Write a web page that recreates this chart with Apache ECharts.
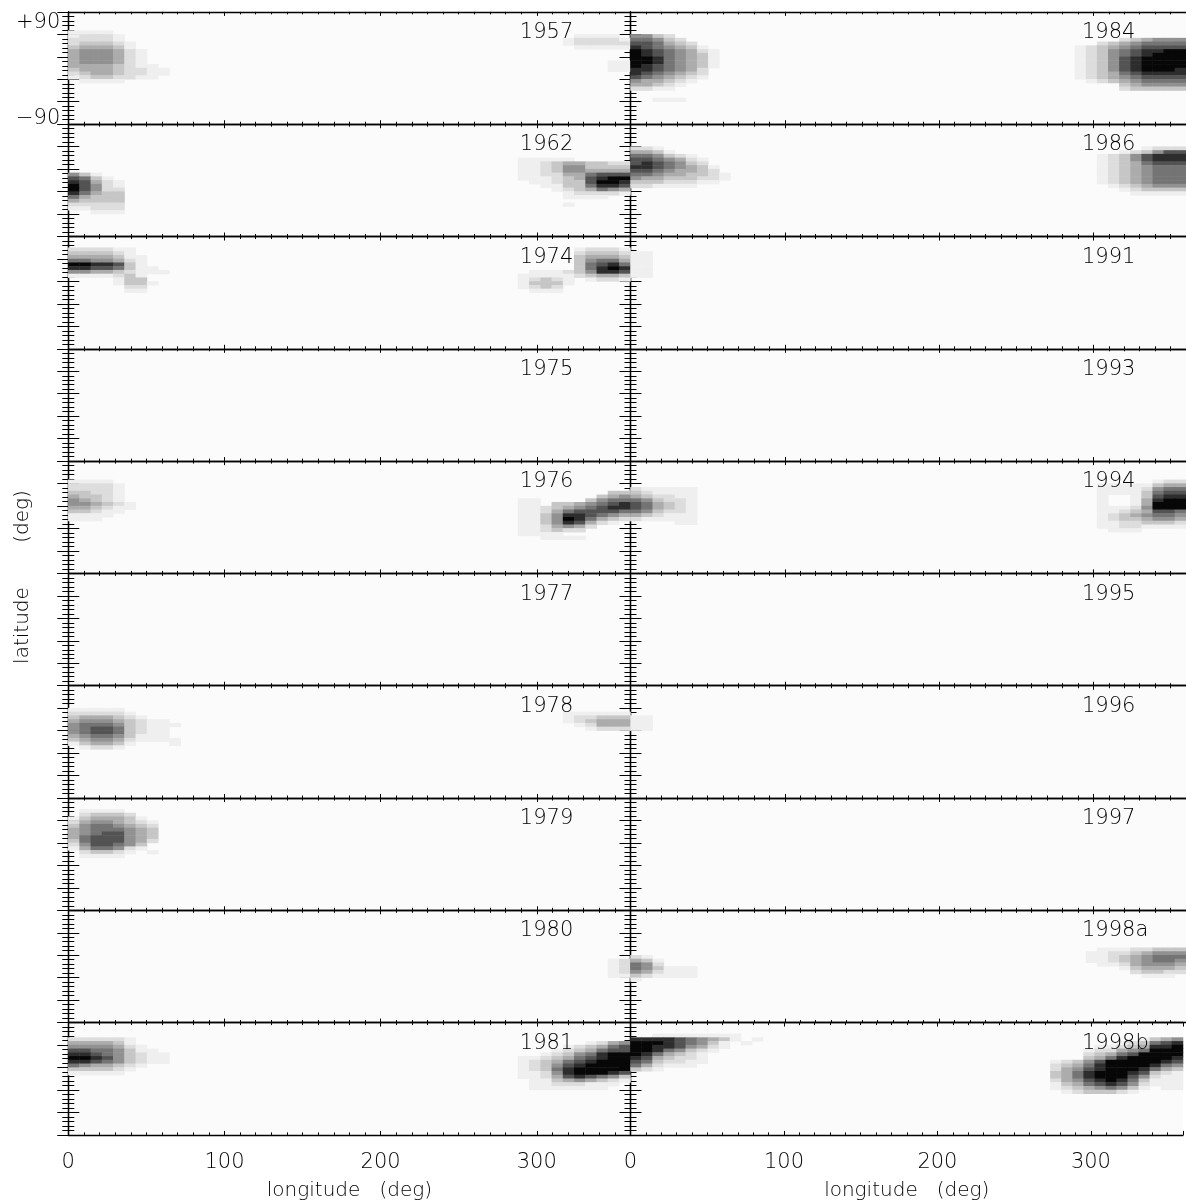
<!DOCTYPE html>
<html>
<head>
<meta charset="utf-8">
<script src="https://cdn.jsdelivr.net/npm/echarts@6/dist/echarts.min.js"></script>
<style>
  html, body { margin: 0; padding: 0; background: #ffffff; }
  #chart { width: 1186px; height: 1204px; }
</style>
</head>
<body>
<div id="chart"></div>
<script>
// Longitude/latitude density maps, one panel per apparition.
// Cells: 50 longitude bins of 7.2 deg, 30 latitude bins of 6 deg (row 0 = +90..+84).
// Each row entry: [latRow, bins 0-11 (0..86 deg), bins 36-49 (259..360 deg)]
// digits 1-9 = density level, '.' = empty.

const yearsWest = ['1957', '1962', '1974', '1975', '1976', '1977', '1978', '1979', '1980', '1981'];
const yearsEast = ['1984', '1986', '1991', '1993', '1994', '1995', '1996', '1997', '1998a', '1998b'];

const rows1957 = [
  [5,  '1111........', '..............'],
  [6,  '12221.......', '.........1111.'],
  [7,  '22221.......', '........122221'],
  [8,  '233321......', '........122222'],
  [9,  '344431......', '.........11111'],
  [10, '4555421.....', ''],
  [11, '4555421.....', ''],
  [12, '4555421.....', ''],
  [13, '4555421.....', '............11'],
  [14, '44443211....', '............11'],
  [15, '344432211...', '............11'],
  [16, '234432211...', ''],
  [17, '12332211....', ''],
  [18, '.1111.......', '']
];
const rows1962 = [
  [9,  '............', '....11111.....'],
  [10, '............', '....1123443322'],
  [11, '............', '....1123553333'],
  [12, '............', '....1123554444'],
  [13, '531.........', '....1122446777'],
  [14, '7631........', '....1112347899'],
  [15, '87421.......', '.....112337998'],
  [16, '97521.......', '......11336887'],
  [17, '97522.......', '.......1234654'],
  [18, '86433.......', '........122221'],
  [19, '64333.......', '........1111..'],
  [20, '43333.......', ''],
  [21, '22222.......', '........1.....'],
  [22, '11222.......', ''],
  [23, '..111.......', '']
];
const rows1974 = [
  [3,  '222211......', '.........12221'],
  [4,  '333321......', '.........23332'],
  [5,  '4444311.....', '.........34443'],
  [6,  '6655421.....', '.........35664'],
  [7,  '9988731.....', '.........36786'],
  [8,  '88776311....', '.........36898'],
  [9,  '554432111...', '.....111235887'],
  [10, '1111231.....', '....1111123443'],
  [11, '....133.....', '....12321.1221'],
  [12, '....1331....', '....13331.....'],
  [13, '.....22.....', '....1232......'],
  [14, '.....11.....', '.....111......']
];
const rows1975 = [];
const rows1976 = [
  [5,  '1111........', ''],
  [6,  '22221.......', ''],
  [7,  '22221.......', ''],
  [8,  '33221.......', '............33'],
  [9,  '43321.......', '...........345'],
  [10, '54321.......', '....11....3566'],
  [11, '554321......', '....11.3345678'],
  [12, '443211......', '....1123456788'],
  [13, '33211.......', '....1124677776'],
  [14, '1111........', '....1135887654'],
  [15, '111.........', '....1135986432'],
  [16, '............', '....113587421.'],
  [17, '............', '....1124542...'],
  [18, '............', '....112322....'],
  [19, '............', '....1111......'],
  [20, '............', '......1111....']
];
const rows1977 = [];
const rows1978 = [
  [6,  '11111.......', ''],
  [7,  '222221......', '........111111'],
  [8,  '3444321.....', '........122333'],
  [9,  '455543211...', '........123444'],
  [10, '5666532111..', '.........12444'],
  [11, '567763211...', '..........1222'],
  [12, '567763211...', ''],
  [13, '456653111...', ''],
  [14, '3455421111..', ''],
  [15, '134431...1..', ''],
  [16, '.1221.......', '']
];
const rows1979 = [
  [3,  '.1111.......', ''],
  [4,  '.23332......', ''],
  [5,  '1344431.....', ''],
  [6,  '24554321....', ''],
  [7,  '35665432....', ''],
  [8,  '45666543....', ''],
  [9,  '45677543....', ''],
  [10, '46777543....', ''],
  [11, '36777542....', ''],
  [12, '2577653.....', ''],
  [13, '1466521.....', ''],
  [14, '.23321.1....', ''],
  [15, '.1111.......', '']
];
const rows1980 = [
  [13, '............', '............12'],
  [14, '............', '............12'],
  [15, '............', '............12'],
  [16, '............', '............12'],
  [17, '............', '............11']
];
const rows1981 = [
  [4,  '222221......', ''],
  [5,  '444431......', '..........1245'],
  [6,  '5555421.....', '........123467'],
  [7,  '77665311....', '.......1234677'],
  [8,  '887653211...', '......12356899'],
  [9,  '998753211...', '....1123467899'],
  [10, '887653211...', '....1234678999'],
  [11, '6544321.....', '....1235789999'],
  [12, '333321......', '....1236899999'],
  [13, '11111.......', '....1125899987'],
  [14, '............', '....1124787653'],
  [15, '............', '.....113454321'],
  [16, '............', '.....11222111.'],
  [17, '............', '.....1111111..']
];
const rows1984 = [
  [6,  '5532........', ''],
  [7,  '66532.......', '........234555'],
  [8,  '776432......', '......23456666'],
  [9,  '8765431.....', '....1234567777'],
  [10, '98765421....', '....1235678899'],
  [11, '98765431....', '....1235678999'],
  [12, '99865431....', '....1235789999'],
  [13, '99865431....', '....1235789999'],
  [14, '98765431....', '....1235789999'],
  [15, '8876542.....', '....1235789998'],
  [16, '8765432.....', '....1234678888'],
  [17, '7654321.....', '....1234567777'],
  [18, '544321......', '.....123456666'],
  [19, '44321.......', '........345555'],
  [20, '2211........', '........233333'],
  [23, '..111.......', '']
];
const rows1986 = [
  [6,  '221.........', '..........1222'],
  [7,  '4431........', '........123577'],
  [8,  '665321......', '......12357888'],
  [9,  '7765421.....', '......12357888'],
  [10, '7876532.....', '......12346777'],
  [11, '88765431....', '......12345666'],
  [12, '77654432....', '......12345666'],
  [13, '665443321...', '......12345666'],
  [14, '544333221...', '......12345666'],
  [15, '33322211....', '......12345666'],
  [16, '221111......', '.......1234555'],
  [17, '............', '........123333'],
  [18, '............', '.........11111']
];
const rows1991 = [
  [4,  '11..........', ''],
  [5,  '11..........', ''],
  [6,  '11..........', ''],
  [7,  '11..........', ''],
  [8,  '11..........', ''],
  [9,  '11..........', ''],
  [10, '11..........', '']
];
const rows1993 = [];
const rows1994 = [
  [5,  '............', '...........122'],
  [6,  '............', '......11111344'],
  [7,  '211111......', '......11112566'],
  [8,  '321111......', '......11113677'],
  [9,  '432211......', '......1..13788'],
  [10, '653221......', '......1..14899'],
  [11, '764321......', '......1..14999'],
  [12, '764321......', '......11125999'],
  [13, '653221......', '......11234776'],
  [14, '432111......', '......12345665'],
  [15, '211111......', '......12334554'],
  [16, '....11......', '......11223332'],
  [17, '............', '......11221111'],
  [18, '............', '.......111....']
];
const rows1995 = [];
const rows1996 = [
  [8,  '11..........', ''],
  [9,  '11..........', ''],
  [10, '11..........', ''],
  [11, '11..........', '']
];
const rows1997 = [];
const rows1998a = [
  [10, '............', '......11122333'],
  [11, '............', '.....112234555'],
  [12, '21..........', '.....112345666'],
  [13, '431.........', '.....112345665'],
  [14, '652.........', '......11245554'],
  [15, '653111......', '........134443'],
  [16, '542111......', '.........23322'],
  [17, '321111......', '..........111.'],
  [18, '1...........', '']
];
const rows1998b = [
  [3,  '..11111111..', ''],
  [4,  '8888765431.1', '..........1345'],
  [5,  '999876531.1.', '........123678'],
  [6,  '998875421...', '......11234889'],
  [7,  '99865321....', '.....122456999'],
  [8,  '9864321.....', '.....234679999'],
  [9,  '8743221.....', '.....346899998'],
  [10, '7632211.....', '..123579999987'],
  [11, '642111......', '..234689999865'],
  [12, '321.........', '..245789998643'],
  [13, '............', '..346899987321'],
  [14, '............', '..346899975211'],
  [15, '............', '..245789863111'],
  [16, '............', '..134678752111'],
  [17, '............', '..123456531.11'],
  [18, '............', '...12333210...']
];

const westRows = [rows1957, rows1962, rows1974, rows1975, rows1976, rows1977, rows1978, rows1979, rows1980, rows1981];
const eastRows = [rows1984, rows1986, rows1991, rows1993, rows1994, rows1995, rows1996, rows1997, rows1998a, rows1998b];

// Axis tick settings
const lonTicksMajor = 100;
const lonTicksMinor = 10;
const latRangeTicks = 36;   // latitude axis runs 0..180 (= lat + 90)

// Grey ramp, level 0..9
const greyRamp = ['#fbfbfb', '#efefef', '#dddddd', '#c6c6c6', '#acacac', '#919191', '#747474', '#535353', '#2d2d2d', '#070707'];

const LON_BINS = 50, LAT_BINS = 30, EAST_OFFSET = 36;
const lonCats = Array.from({ length: LON_BINS }, (_, i) => String(i));
const latCats = Array.from({ length: LAT_BINS }, (_, i) => String(i));

function cellsOf(rows) {
  const out = [];
  rows.forEach(([t, west, east]) => {
    [...west].forEach((ch, i) => { const v = +ch; if (v > 0) out.push([i, t, v]); });
    [...(east || '')].forEach((ch, i) => { const v = +ch; if (v > 0) out.push([EAST_OFFSET + i, t, v]); });
  });
  return out;
}

// Layout
const FONT = 'DejaVu Sans';
const FW = 200;
const NUM_SIZE = 21, WORD_SIZE = 20;
const PLOT_LEFT = 68.3, PANEL_W = 562.2, PLOT_TOP = 11.9, PANEL_H = 112.3, NROWS = 10;

const grids = [], xAxes = [], yAxes = [], series = [], graphics = [];
const panels = [];
yearsWest.forEach((y, i) => panels.push({ year: y, rows: westRows[i], col: 0, row: i }));
yearsEast.forEach((y, i) => panels.push({ year: y, rows: eastRows[i], col: 1, row: i }));

const black = '#000';
panels.forEach((p, idx) => {
  const left = PLOT_LEFT + p.col * PANEL_W;
  const top = PLOT_TOP + p.row * PANEL_H;
  grids.push({ left, top, width: PANEL_W, height: PANEL_H, show: true, backgroundColor: '#fbfbfb', borderWidth: 0 });
  const isBottom = p.row === NROWS - 1;

  const lonAxis = (pos, major) => ({
    gridIndex: idx, type: 'value', position: pos, min: 0, max: 360,
    interval: major ? lonTicksMajor : lonTicksMinor,
    axisLine: { show: major, lineStyle: { color: black, width: 1.3 } },
    axisTick: { show: true, inside: true, length: major ? 4 : 2.5, lineStyle: { color: black, width: 1 } },
    axisLabel: {
      show: major && pos === 'bottom' && isBottom,
      formatter: v => (v === 360 ? '' : String(v)),
      margin: 17.5, fontSize: NUM_SIZE, fontFamily: FONT, fontWeight: FW, color: black
    },
    splitLine: { show: false },
    name: (major && pos === 'bottom' && isBottom) ? 'longitude   (deg)' : '',
    nameLocation: 'middle', nameGap: 46,
    nameTextStyle: { fontSize: WORD_SIZE, fontFamily: FONT, fontWeight: FW, color: black }
  });

  const firstX = xAxes.length, firstY = yAxes.length;
  xAxes.push({ gridIndex: idx, type: 'category', data: lonCats, show: false });
  xAxes.push(lonAxis('bottom', true), lonAxis('bottom', false), lonAxis('top', true), lonAxis('top', false));

  const latAxis = (pos) => ({
    gridIndex: idx, type: 'value', position: pos, min: 0, max: 180, interval: latRangeTicks,
    axisLine: { show: true, lineStyle: { color: black, width: 1.3 } },
    axisTick: { show: true, inside: true, length: 11, lineStyle: { color: black, width: 1 } },
    minorTick: { show: true, splitNumber: 5, length: 6, lineStyle: { color: black, width: 1 } },
    splitLine: { show: false }, minorSplitLine: { show: false },
    axisLabel: {
      show: pos === 'left' && idx === 0, margin: 8, showMinLabel: true, showMaxLabel: true,
      formatter: v => (v === 180 ? '{t|+90}' : v === 0 ? '{b|\u221290}' : ''),
      rich: {
        t: { fontSize: NUM_SIZE, fontFamily: FONT, fontWeight: FW, color: black, padding: [21, 0, 0, 0] },
        b: { fontSize: NUM_SIZE, fontFamily: FONT, fontWeight: FW, color: black, padding: [0, 0, 12, 0] }
      }
    }
  });
  yAxes.push({ gridIndex: idx, type: 'category', data: latCats, inverse: true, show: false });
  yAxes.push(latAxis('left'), latAxis('right'));

  series.push({
    type: 'heatmap', name: p.year, xAxisIndex: firstX, yAxisIndex: firstY,
    data: cellsOf(p.rows), emphasis: { disabled: true }, silent: true
  });

  graphics.push({
    type: 'text', x: left + 451.5, y: top + 20.7, z: 100, silent: true,
    style: { text: p.year, fontSize: NUM_SIZE, fontFamily: FONT, fontWeight: FW, fill: black, align: 'left', verticalAlign: 'middle' }
  });
});

graphics.push({
  type: 'text', x: 22.4, y: 577, rotation: Math.PI / 2, z: 100, silent: true,
  style: { text: 'latitude       (deg)', fontSize: WORD_SIZE, fontFamily: FONT, fontWeight: FW, fill: black, align: 'center', verticalAlign: 'middle' }
});

const chart = echarts.init(document.getElementById('chart'), null, { renderer: 'canvas' });
chart.setOption({
  animation: false,
  backgroundColor: '#ffffff',
  textStyle: { fontFamily: FONT },
  grid: grids,
  xAxis: xAxes,
  yAxis: yAxes,
  visualMap: {
    show: false, type: 'continuous', min: 0, max: 9,
    seriesIndex: series.map((_, i) => i),
    inRange: { color: greyRamp }
  },
  series,
  graphic: { elements: graphics }
});
</script>
</body>
</html>
